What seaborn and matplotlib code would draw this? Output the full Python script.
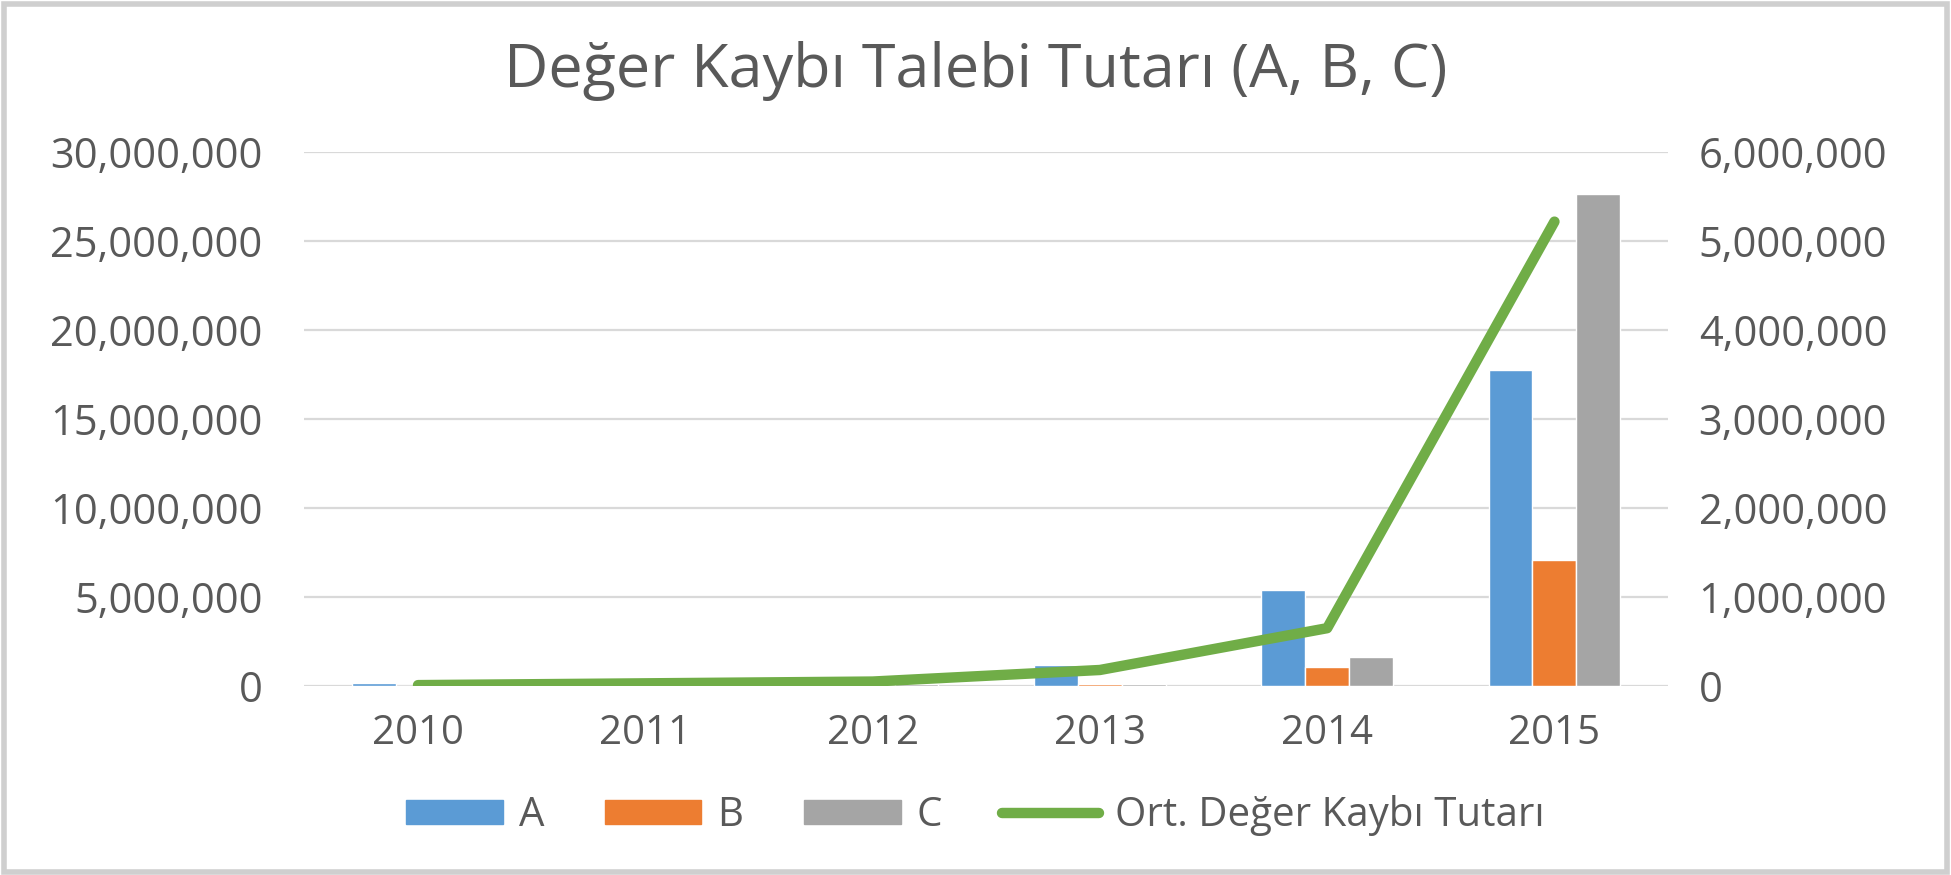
import numpy as np
import pandas as pd
import matplotlib
matplotlib.use("Agg")
import matplotlib.pyplot as plt
from matplotlib.ticker import FuncFormatter, MultipleLocator
from matplotlib.patches import Rectangle
from matplotlib.lines import Line2D
import seaborn as sns

# veriler
years = ["2010", "2011", "2012", "2013", "2014", "2015"]
a_vals = [150000, 20000, 30000, 1180000, 5420000, 17780000]
b_vals = [5000, 5000, 10000, 90000, 1080000, 7060000]
c_vals = [5000, 10000, 100000, 100000, 1640000, 27680000]
ort_vals = [10000, 30000, 50000, 180000, 650000, 5220000]

series_names = ["A", "B", "C"]
line_name = "Ort. Değer Kaybı Tutarı"
colors = {"A": "#5B9BD5", "B": "#ED7D31", "C": "#A5A5A5"}
green = "#70AD47"
txt = "#595959"

df = pd.DataFrame({
    "Yil": years * 3,
    "Seri": ["A"] * 6 + ["B"] * 6 + ["C"] * 6,
    "Tutar": a_vals + b_vals + c_vals,
})

sns.set_theme(style="white")
plt.rcParams["font.family"] = ["Open Sans", "DejaVu Sans"]

fig = plt.figure(figsize=(19.51, 8.75), dpi=100)
ax = fig.add_axes([0.156, 0.216, 0.699, 0.61])

sns.barplot(data=df, x="Yil", y="Tutar", hue="Seri", palette=colors,
            width=0.58, ax=ax, legend=False, saturation=1, errorbar=None)

ax2 = ax.twinx()
sns.lineplot(x=np.arange(len(years)), y=ort_vals, color=green, lw=7.5,
             ax=ax2, solid_capstyle="round")

ax.set_xlim(-0.5, 5.5)
ax.set_ylim(0, 30000000)
ax2.set_ylim(0, 6000000)
ax.yaxis.set_major_locator(MultipleLocator(5000000))
ax2.yaxis.set_major_locator(MultipleLocator(1000000))
fmt = FuncFormatter(lambda v, p: f"{v:,.0f}")
ax.yaxis.set_major_formatter(fmt)
ax2.yaxis.set_major_formatter(fmt)

ax.set_xlabel("")
ax.set_ylabel("")
ax2.set_ylabel("")
ax.yaxis.grid(True, color="#D9D9D9", lw=1.6)
ax.set_axisbelow(True)
for a in (ax, ax2):
    for s in a.spines.values():
        s.set_visible(False)
ax.tick_params(axis="y", length=0, pad=30, labelsize=30, labelcolor=txt)
ax.tick_params(axis="x", length=0, pad=20, labelsize=29, labelcolor=txt)
ax2.tick_params(axis="y", length=0, pad=22, labelsize=30, labelcolor=txt)

fig.text(0.5, 0.919, "Değer Kaybı Talebi Tutarı (A, B, C)", ha="center",
         va="center", fontsize=44, color=txt)

handles = [Rectangle((0, 0), 1, 1, color=colors[s]) for s in series_names]
handles.append(Line2D([0], [0], color=green, lw=7.5, solid_capstyle="round"))
fig.legend(handles, series_names + [line_name], loc="center",
           bbox_to_anchor=(0.5, 0.068), ncol=4, frameon=False, fontsize=29,
           handlelength=2.4, handleheight=0.55, handletextpad=0.4,
           columnspacing=1.5, labelcolor=txt)

# dis cerceve
fig.patches.append(Rectangle((0.002, 0.004), 0.996, 0.992, transform=fig.transFigure,
                             fill=False, edgecolor="#CFCFCF", lw=4))

fig.savefig("out.png", dpi=100)
